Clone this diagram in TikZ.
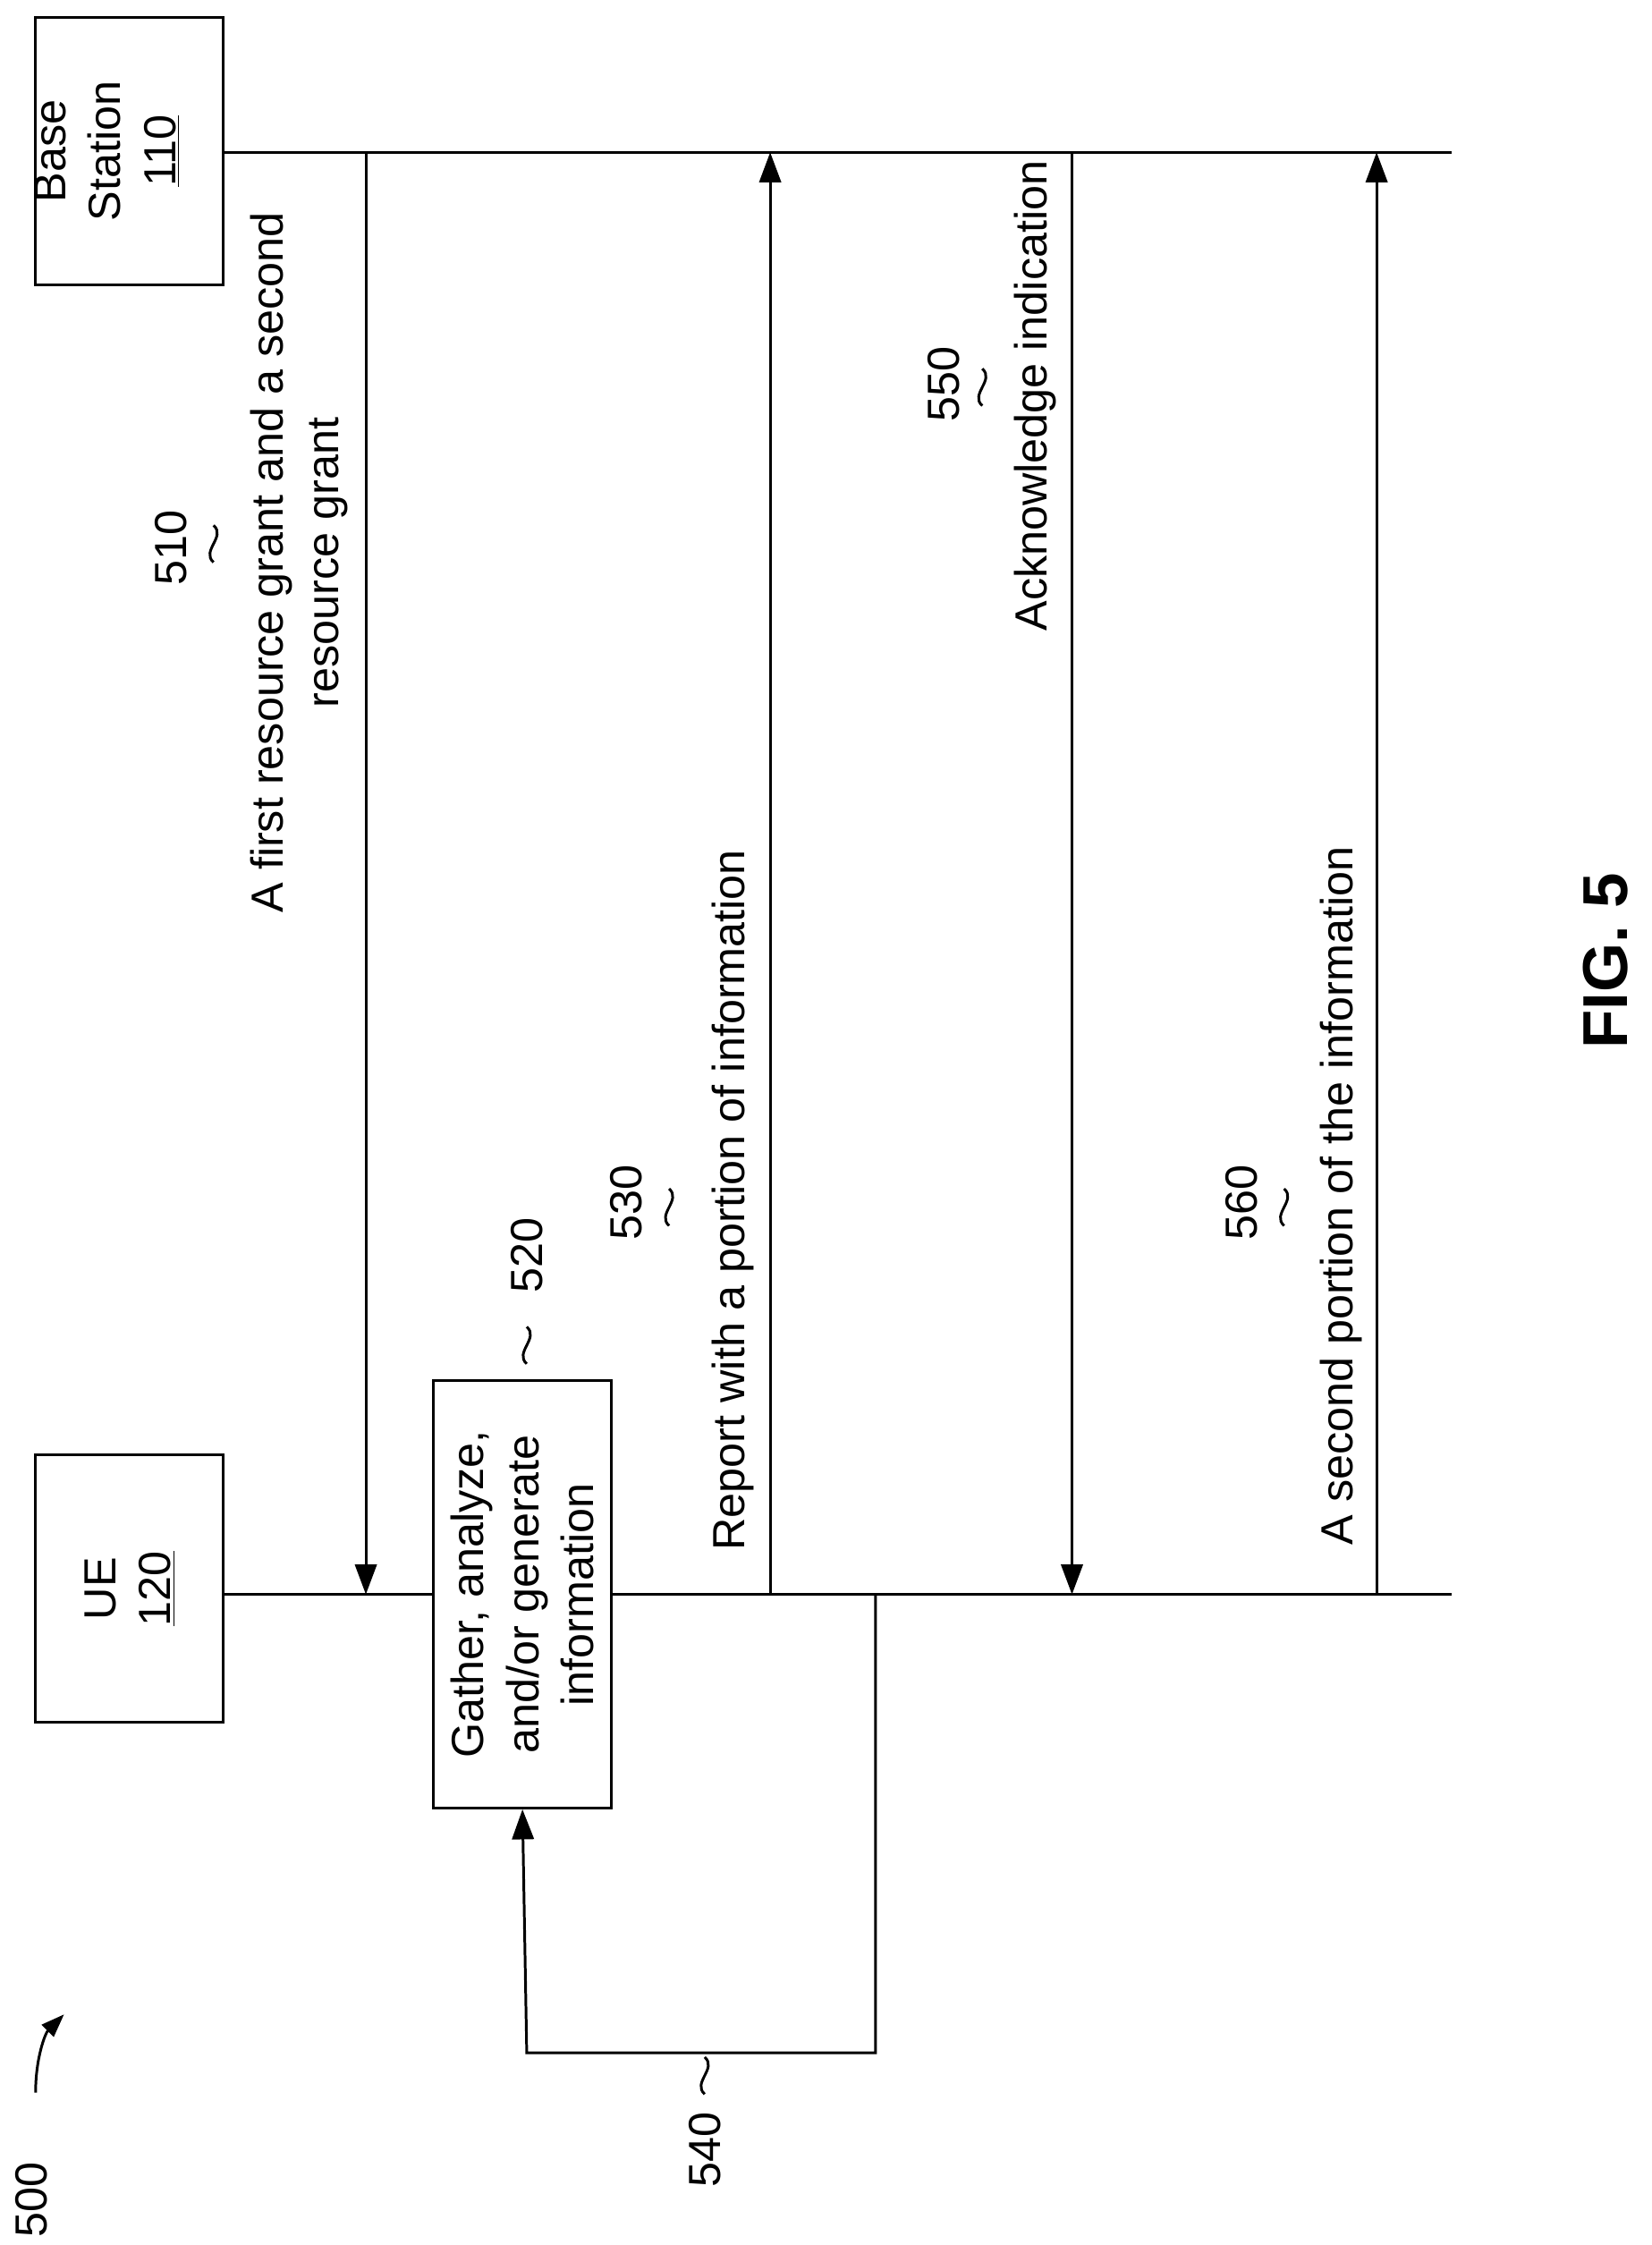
\documentclass[tikz,border=0pt]{standalone}
\usepackage{fontspec}
\setmainfont{Liberation Sans}
\usetikzlibrary{arrows.meta}
\begin{document}
\begin{tikzpicture}[x=0.03cm,y=-0.03cm,line width=1.6pt,
  box/.style={draw,line width=1.6pt},
  lbl/.style={rotate=90,font=\fontsize{27}{33}\selectfont,align=center,inner sep=0},
  arr/.style={-{Triangle[length=18pt,width=13pt]}}]
\useasboundingbox (0,0) rectangle (1160,1577);
\newcommand{\sq}[2]{\draw (#1,#2-13) .. controls (#1+9,#2-5) and (#1-9,#2+5) .. (#1,#2+13);}
% boxes
\node[box,minimum width=132*0.03cm,minimum height=188*0.03cm] (bs) at (91,106) {};
\node[lbl] (bst) at (75,106) {Base\\Station\\\underline{110}};
\node[box,minimum width=132*0.03cm,minimum height=188*0.03cm] (ue) at (91,1116) {};
\node[lbl] (uet) at (91,1116) {UE\\\underline{120}};
% lifelines
\coordinate (b0) at (157,107); \coordinate (b1) at (1020,107);
\coordinate (u0) at (157,1120); \coordinate (u1) at (1020,1120);
\draw (b0)--(b1); \draw (u0)--(u1);
% 520 box
\node[box,minimum width=125*0.03cm,minimum height=300*0.03cm,fill=white] (g) at (367,1120) {};
\node[lbl] (gt) at (367,1120) {Gather, analyze,\\and/or generate\\information};
% arrows
\coordinate (a1s) at (257,107); \coordinate (a1e) at (257,1120);
\draw[arr] (a1s)--(a1e);
\node[lbl] (l510) at (210,395) {A first resource grant and a second\\resource grant};
\node[lbl] (n510) at (120,385) {510}; \sq{150}{382}
\coordinate (a3s) at (541,1120); \coordinate (a3e) at (541,107);
\draw[arr] (a3s)--(a3e);
\node[lbl] (l530) at (515,843) {Report with a portion of information};
\node[lbl] (n530) at (440,845) {530}; \sq{470}{848}
\coordinate (a5s) at (753,107); \coordinate (a5e) at (753,1120);
\draw[arr] (a5s)--(a5e);
\node[lbl] (l550) at (727,278) {Acknowledge indication};
\node[lbl] (n550) at (663,270) {550}; \sq{690}{272}
\coordinate (a6s) at (967,1120); \coordinate (a6e) at (967,107);
\draw[arr] (a6s)--(a6e);
\node[lbl] (l560) at (942,840) {A second portion of the information};
\node[lbl] (n560) at (872,845) {560}; \sq{902}{848}
% loop 540
\coordinate (p0) at (615,1120); \coordinate (p1) at (615,1442); \coordinate (p2) at (370,1442);
\draw[arr] (p0)--(p1)--(p2)--(g.south);
\node[lbl] (n540) at (495,1510) {540}; \sq{495}{1458}
\node[lbl] (n520) at (370,882) {520}; \sq{370}{945}
% 500
\node[lbl] (n500) at (22,1545) {500};
\draw[-{Triangle[length=14pt,width=10pt]}] (25,1470) .. controls (25,1445) and (32,1428) .. (45,1415);
\node[lbl,font=\fontsize{38}{44}\selectfont\bfseries] (fig) at (1128,675) {FIG. 5};
\end{tikzpicture}
\end{document}
